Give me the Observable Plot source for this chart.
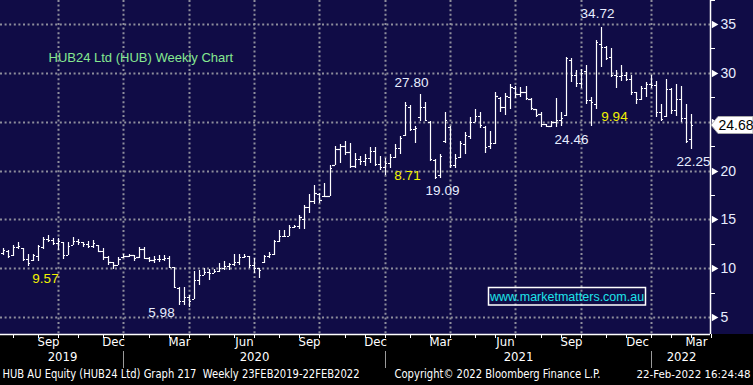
<!DOCTYPE html>
<html><head><meta charset="utf-8">
<script src="https://cdn.jsdelivr.net/npm/d3@7"></script>
<script src="https://cdn.jsdelivr.net/npm/@observablehq/plot@0.6"></script>
<style>
html,body{margin:0;padding:0;background:#000;}
#chart svg{display:block;}
</style></head><body><div id="chart"></div>
<script>
// ---- data (weekly OHLC, first bar = week ending 12 Jul 2019) ----
const firstWeek = "2019-07-12";
const opens = [
 11.6,11.8,11.3,12.2,12.1,10.9,10.8,11.2,12.2,13.0,
 12.9,12.6,12.7,11.4,12.4,12.8,12.7,12.5,12.3,12.4,
 11.8,11.1,10.6,10.3,11.1,11.2,11.3,11.1,12.0,11.0,
 10.8,10.9,10.9,11.0,10.1,8.0,6.6,7.0,6.8,8.8,
 9.3,9.6,9.5,9.7,10.0,10.2,10.4,10.6,11.1,11.2,
 10.3,10.0,10.6,11.2,11.5,12.8,13.3,13.3,14.2,14.3,
 15.0,16.3,16.9,17.6,17.4,17.4,20.6,22.2,22.5,21.9,
 20.5,21.2,21.0,21.3,22.0,20.7,20.4,20.8,21.4,22.3,
 23.6,26.5,24.3,25.5,26.5,25.0,21.1,19.5,23.0,24.5,
 20.6,21.4,22.7,23.5,25.0,25.6,24.5,22.5,22.8,27.4,
 26.5,27.5,28.5,27.8,28.0,27.3,26.3,25.8,24.8,24.6,
 25.0,25.2,25.7,31.3,29.8,29.0,30.2,27.2,26.8,33.0,
 32.6,31.6,29.8,29.7,29.8,29.4,28.0,27.3,28.4,28.9,
 28.8,26.0,25.6,28.3,26.2,27.3,25.4,23.2];
const highs = [
 12.05,11.9,12.4,12.7,12.1,11.5,11.5,12.4,13.2,13.35,
 13.1,13.1,12.7,12.7,13.2,13.0,12.7,12.8,12.9,12.4,
 12.05,11.2,10.6,11.1,11.45,11.45,11.4,12.2,12.2,11.1,
 11.2,11.3,11.3,11.2,10.1,8.05,8.05,7.3,9.7,9.85,
 10.0,9.95,9.95,10.5,10.7,10.5,11.5,11.5,11.45,11.2,
 11.05,10.0,11.4,11.7,12.9,13.9,13.9,14.45,14.45,15.4,
 16.5,17.6,18.56,17.7,18.7,20.6,22.5,22.67,23.0,22.84,
 21.8,21.47,21.64,22.4,22.4,21.47,21.3,21.64,22.67,23.53,
 27.0,26.66,24.59,27.8,27.0,25.1,21.14,21.66,25.97,24.6,
 21.66,23.03,23.9,25.45,26.3,25.97,24.6,24.07,28.0,27.5,
 27.9,28.9,28.7,28.6,28.7,27.4,26.3,26.0,24.8,25.1,
 27.4,26.0,31.6,31.5,30.3,30.4,30.8,27.5,33.4,34.72,
 32.7,32.5,30.3,30.8,30.1,29.8,28.0,28.7,29.1,29.8,
 29.2,26.8,29.4,28.4,28.9,28.7,26.8,25.8];
const lows = [
 11.37,11.0,11.2,12.0,10.7,10.2,10.7,10.7,12.0,12.7,
 12.4,11.9,10.9,11.4,12.4,12.4,12.2,12.1,12.05,11.65,
 10.85,10.3,9.95,10.3,11.05,11.1,10.75,11.05,10.9,10.6,
 10.5,10.6,10.7,10.0,8.0,6.2,6.2,5.98,6.8,8.3,
 9.3,8.8,9.5,9.6,9.85,9.85,10.2,10.35,11.0,10.0,
 9.5,9.0,10.5,11.05,11.4,12.7,13.25,13.3,14.1,14.05,
 14.0,15.65,16.6,16.7,17.36,17.36,20.6,20.8,21.6,20.27,
 20.27,20.6,20.45,20.8,20.45,20.1,19.59,20.27,21.3,21.64,
 23.5,24.07,22.86,25.1,25.1,20.97,19.09,19.24,22.86,20.3,
 20.28,21.31,21.66,23.2,24.93,24.4,21.83,22.2,22.7,26.0,
 25.7,26.3,27.4,27.5,27.2,26.2,25.5,24.5,24.46,24.5,
 24.5,24.6,25.6,29.1,28.6,28.4,26.8,24.6,26.3,30.6,
 31.3,29.6,28.4,29.2,29.2,27.7,26.8,27.2,27.5,28.4,
 25.5,25.1,25.5,25.8,25.6,25.0,22.8,22.25];
const closes = [
 11.9,11.2,12.2,12.3,10.9,10.5,11.3,12.3,13.0,12.9,
 12.6,12.8,11.4,12.3,12.8,12.7,12.5,12.3,12.6,11.8,
 11.1,10.6,10.3,10.9,11.2,11.3,11.0,12.0,11.0,10.8,
 10.9,10.9,11.0,10.1,8.1,6.6,7.0,6.6,8.8,9.3,
 9.6,9.5,9.7,10.0,10.2,10.4,10.6,11.1,11.2,10.3,
 10.0,9.8,11.2,11.5,12.8,13.3,13.3,14.2,14.3,15.2,
 16.3,16.9,17.7,17.0,17.4,20.3,22.2,22.5,21.9,20.5,
 21.2,21.0,21.3,22.0,20.7,20.4,20.8,21.4,22.3,23.3,
 26.7,24.3,24.4,26.5,25.2,21.2,19.3,21.5,25.2,20.6,
 21.3,22.8,23.6,25.0,25.6,24.7,22.4,22.8,27.6,26.5,
 27.6,28.6,27.8,28.0,27.4,26.4,25.7,24.8,24.6,25.0,
 25.2,25.4,31.5,29.8,29.0,30.0,27.2,27.0,33.2,32.6,
 31.5,29.8,29.7,29.8,29.4,28.0,27.3,28.4,28.9,28.8,
 26.0,25.3,28.3,26.2,27.3,25.4,23.0,24.68];

const lastPrice = 24.68;
const yTicks = [5, 10, 15, 20, 25, 30, 35];
const yTickLabels = [5, 10, 15, 20, 30, 35]; // 25 is hidden behind the last-price tag
const yMinorTicks = [7.5, 12.5, 17.5, 22.5, 27.5, 32.5, 37.5];
const gridDates = ["2019-09-27","2019-12-27","2020-03-27","2020-06-26","2020-09-25",
  "2020-12-25","2021-03-26","2021-06-25","2021-09-24","2021-12-31"];
const monthLabels = ["Sep","Dec","Mar","Jun","Sep","Dec","Mar","Jun","Sep","Dec","Mar"];
const monthLabelDates = ["2019-09-13","2019-12-13","2020-03-13","2020-06-12","2020-09-11",
  "2020-12-11","2021-03-12","2021-06-11","2021-09-10","2021-12-12","2022-03-04"];
const yearLabels = ["2019","2020","2021","2022"];
const yearLabelDates = ["2019-10-02","2020-06-26","2021-06-28","2022-02-10"];
const yearSepDates = ["2019-12-27","2020-12-25","2021-12-31"];
const annWhite = ["5.98","19.09","27.80","34.72","24.46","22.25"];
const annWhiteDates = ["2020-02-17","2021-03-15","2021-01-31","2021-10-16","2021-09-11","2022-02-27"];
const annWhitePrices = [5.52, 18.0, 29.06, 36.13, 23.23, 20.98];
const annYellow = ["9.57","8.71","9.94"];
const annYellowDates = ["2019-09-09","2021-01-25","2021-11-09"];
const annYellowPrices = [9.0, 19.54, 25.58];
const title = "HUB24 Ltd (HUB) Weekly Chart";
const watermark = "www.marketmatters.com.au";
const footerLeft = "HUB AU Equity (HUB24 Ltd) Graph 217  Weekly 23FEB2019-22FEB2022";
const footerMid = "Copyright\u00A9 2022 Bloomberg Finance L.P.";
const footerRight = "22-Feb-2022 16:24:48";

// ---- build ----
const dates = opens.map((_, i) => d3.utcDay.offset(new Date(firstWeek), 7 * i));
const bars = dates.map((date, i) => ({date, open: opens[i], high: highs[i], low: lows[i], close: closes[i]}));
const xDomain = [new Date("2019-07-08"), new Date("2022-03-23")];
const yDomain = [3.26, 37.46];
const monthEnds = d3.utcMonth.range(new Date("2019-07-01"), new Date("2022-04-01"))
  .map(m => d3.utcFriday.floor(d3.utcDay.offset(d3.utcMonth.offset(m, 1), -1)));

const NAVY = "#100c46";
const GRID = "#8e8e9c";
const condensed = "'Liberation Sans Narrow','DejaVu Sans Condensed','Arial Narrow',sans-serif";
const sans = "'Liberation Sans',Arial,sans-serif";

const plot = Plot.plot({
  width: 753, height: 385,
  marginLeft: 0, marginRight: 43, marginTop: 0, marginBottom: 51,
  style: {background: `linear-gradient(to bottom, ${NAVY} 0px, ${NAVY} 334px, #000 334px)`, fontFamily: sans, color: "white"},
  x: {type: "utc", domain: xDomain, round: true, axis: null},
  y: {domain: yDomain, round: true, axis: null},
  marks: [
    Plot.ruleY(yTicks, {stroke: GRID, strokeWidth: 2, strokeDasharray: "2,2.6"}),
    Plot.ruleX(gridDates, {x: d => new Date(d), stroke: GRID, strokeWidth: 2, strokeDasharray: "2,2.6"}),
    // OHLC bars
    Plot.ruleX(bars, {x: "date", y1: "low", y2: "high", stroke: "white", strokeWidth: 1.2}),
    Plot.ruleY(bars, {x1: d => d3.utcDay.offset(d.date, -3), x2: "date", y: "open", stroke: "white", strokeWidth: 1.2}),
    Plot.ruleY(bars, {x1: "date", x2: d => d3.utcDay.offset(d.date, 3), y: "close", stroke: "white", strokeWidth: 1.2}),
    // frame lines
    Plot.ruleX([xDomain[1]], {stroke: "white", strokeWidth: 1.5}),
    Plot.ruleY([yDomain[0]], {stroke: "white", strokeWidth: 1.5}),
    // right axis
    Plot.axisY({anchor: "right", ticks: yMinorTicks, tickSize: 4, tickFormat: () => "", stroke: "white", label: null}),
    Plot.axisY({anchor: "right", ticks: yTickLabels, tickSize: 0, tickPadding: 10, fill: "#e8eeff", fontSize: 14, label: null}),
    Plot.dot(yTicks, {y: d => d, frameAnchor: "right", symbol: "triangle", r: 2.8, rotate: 90, fill: "white", stroke: null, dx: 3.5}),
    // bottom axis
    Plot.axisX({anchor: "bottom", ticks: monthEnds, tickSize: 4, tickFormat: () => "", stroke: "white", label: null}),
    Plot.text(monthLabelDates, {x: d => new Date(d), text: (d, i) => monthLabels[i], frameAnchor: "bottom", dy: 11, fill: "white", fontSize: 13, fontFamily: condensed}),
    Plot.text(yearLabelDates, {x: d => new Date(d), text: (d, i) => yearLabels[i], frameAnchor: "bottom", dy: 26, fill: "white", fontSize: 13, fontFamily: condensed}),
    Plot.ruleX(yearSepDates, {x: d => new Date(d), stroke: "#9a9a9a", strokeWidth: 1, insetTop: 351, insetBottom: -34}),
    // annotations
    Plot.text(annWhite, {x: (d, i) => new Date(annWhiteDates[i]), y: (d, i) => annWhitePrices[i], text: d => d, fill: "#e8eeff", fontSize: 13.5}),
    Plot.text(annYellow, {x: (d, i) => new Date(annYellowDates[i]), y: (d, i) => annYellowPrices[i], text: d => d, fill: "#f2f200", fontSize: 13.5}),
    // title
    Plot.text([title], {frameAnchor: "top-left", dx: 48, dy: 57, textAnchor: "start", lineAnchor: "middle", fill: "#86e891", fontSize: 13}),
    // footer
    Plot.text([footerLeft], {frameAnchor: "bottom-left", dx: 2, dy: 43, textAnchor: "start", fill: "white", fontSize: 12, fontFamily: condensed}),
    Plot.text([footerMid], {frameAnchor: "bottom-left", dx: 394, dy: 43, textAnchor: "start", fill: "white", fontSize: 12, fontFamily: condensed}),
    Plot.text([footerRight], {frameAnchor: "bottom-left", dx: 636, dy: 43, textAnchor: "start", fill: "white", fontSize: 11, fontFamily: condensed})
  ]
});

// fit footer widths to the reference
const fits = new Map([[footerLeft, 357], [footerMid, 206], [footerRight, 114]]);
plot.querySelectorAll("text").forEach(t => {
  const w = fits.get(t.textContent);
  if (w) { t.setAttribute("textLength", w); t.setAttribute("lengthAdjust", "spacingAndGlyphs"); }
});

// price tag and watermark
const ns = "http://www.w3.org/2000/svg";
const yp = plot.scale("y").apply(lastPrice);
const g = document.createElementNS(ns, "g");
g.setAttribute("text-anchor", "start");
const tag = document.createElementNS(ns, "path");
tag.setAttribute("d", `M711,${yp} L718,${yp - 8.5} L753,${yp - 8.5} L753,${yp + 8.5} L718,${yp + 8.5} Z`);
tag.setAttribute("fill", "white");
tag.setAttribute("stroke", "#aaa");
g.appendChild(tag);
const tagText = document.createElementNS(ns, "text");
tagText.setAttribute("x", 718.5); tagText.setAttribute("y", yp);
tagText.setAttribute("dy", "0.35em");
tagText.setAttribute("text-anchor", "start");
tagText.setAttribute("font-size", 14);
tagText.setAttribute("fill", "#000");
tagText.textContent = lastPrice.toFixed(2);
g.appendChild(tagText);
const box = document.createElementNS(ns, "rect");
box.setAttribute("x", 488.5); box.setAttribute("y", 287.5);
box.setAttribute("width", 157); box.setAttribute("height", 17.5);
box.setAttribute("fill", "none"); box.setAttribute("stroke", "white"); box.setAttribute("stroke-width", 1.5);
g.appendChild(box);
const wm = document.createElementNS(ns, "text");
wm.setAttribute("x", 567); wm.setAttribute("y", 296.5);
wm.setAttribute("dy", "0.35em");
wm.setAttribute("text-anchor", "middle");
wm.setAttribute("font-size", 12.5);
wm.setAttribute("fill", "#1ee4ea");
wm.textContent = watermark;
g.appendChild(wm);
plot.appendChild(g);

document.getElementById("chart").appendChild(plot);
</script></body></html>
